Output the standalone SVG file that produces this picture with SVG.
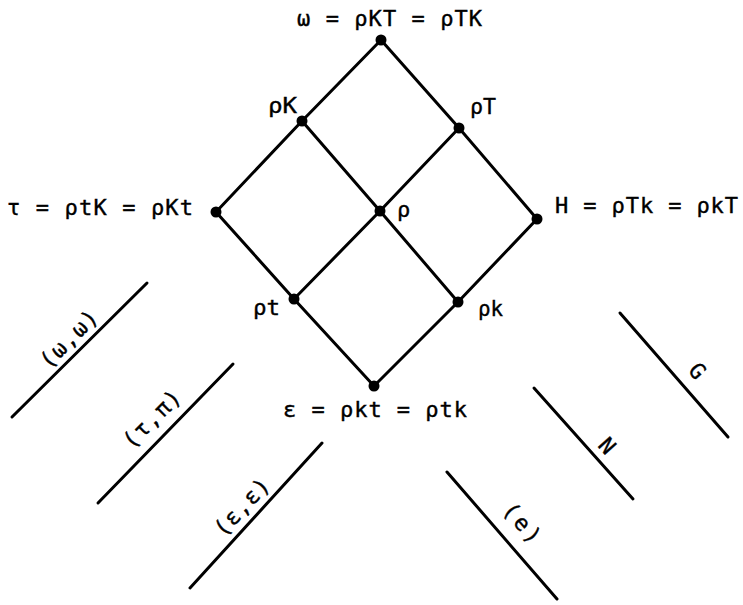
<svg xmlns="http://www.w3.org/2000/svg" width="743" height="605" viewBox="0 0 743 605">
<style>
  .edge { stroke: #000; stroke-width: 3; fill: none; stroke-linecap: round; }
  .dot { fill: #000; }
  .lbl { font-family: "DejaVu Sans Mono", "Liberation Mono", monospace; font-size: 22px; fill: #000; stroke: #000; stroke-width: 0.4; }
  .rl { font-family: "DejaVu Sans Mono", "Liberation Mono", monospace; font-size: 22px; fill: #000; stroke: #000; stroke-width: 0.4; text-anchor: middle; }
</style>
<rect width="743" height="605" fill="#fff"/>
<g id="connectors">
  <line class="edge" x1="381" y1="40" x2="302" y2="121"/>
  <line class="edge" x1="381" y1="40" x2="459" y2="128"/>
  <line class="edge" x1="302" y1="121" x2="216" y2="212"/>
  <line class="edge" x1="302" y1="121" x2="380" y2="211"/>
  <line class="edge" x1="459" y1="128" x2="380" y2="211"/>
  <line class="edge" x1="459" y1="128" x2="537" y2="219"/>
  <line class="edge" x1="216" y1="212" x2="294" y2="299"/>
  <line class="edge" x1="380" y1="211" x2="294" y2="299"/>
  <line class="edge" x1="380" y1="211" x2="458" y2="302"/>
  <line class="edge" x1="537" y1="219" x2="458" y2="302"/>
  <line class="edge" x1="294" y1="299" x2="374" y2="386"/>
  <line class="edge" x1="458" y1="302" x2="374" y2="386"/>
</g>
<g id="node-omega">
  <circle class="dot" cx="381" cy="40" r="5.5"/>
  <text class="lbl" x="297" y="26" textLength="185" lengthAdjust="spacing">ω = ρKT = ρTK</text>
</g>
<g id="node-rhoK">
  <circle class="dot" cx="302" cy="121" r="5.5"/>
  <text class="lbl" x="268" y="113" textLength="29" lengthAdjust="spacingAndGlyphs">ρK</text>
</g>
<g id="node-rhoT">
  <circle class="dot" cx="459" cy="128" r="5.5"/>
  <text class="lbl" x="470" y="114" textLength="26" lengthAdjust="spacingAndGlyphs">ρT</text>
</g>
<g id="node-tau">
  <circle class="dot" cx="216" cy="212" r="5.5"/>
  <text class="lbl" x="7" y="215" textLength="186" lengthAdjust="spacing">τ = ρtK = ρKt</text>
</g>
<g id="node-rho">
  <circle class="dot" cx="380" cy="211" r="5.5"/>
  <text class="lbl" x="397" y="217">ρ</text>
</g>
<g id="node-H">
  <circle class="dot" cx="537" cy="219" r="5.5"/>
  <text class="lbl" x="555" y="213" textLength="183" lengthAdjust="spacing">H = ρTk = ρkT</text>
</g>
<g id="node-rhot">
  <circle class="dot" cx="294" cy="299" r="5.5"/>
  <text class="lbl" x="253" y="315" textLength="27" lengthAdjust="spacingAndGlyphs">ρt</text>
</g>
<g id="node-rhok">
  <circle class="dot" cx="458" cy="302" r="5.5"/>
  <text class="lbl" x="478" y="316" textLength="25" lengthAdjust="spacingAndGlyphs">ρk</text>
</g>
<g id="node-epsilon">
  <circle class="dot" cx="374" cy="386" r="5.5"/>
  <text class="lbl" x="283" y="417" textLength="184" lengthAdjust="spacing">ε = ρkt = ρtk</text>
</g>
<g id="scales">
  <line class="edge" x1="147" y1="283" x2="12" y2="417"/>
  <text class="rl" transform="translate(70,340) rotate(-45)" y="6" textLength="72" lengthAdjust="spacing">(ω,ω)</text>
  <line class="edge" x1="233" y1="364" x2="98" y2="503"/>
  <text class="rl" transform="translate(153,420) rotate(-45)" y="6" textLength="72" lengthAdjust="spacing">(τ,π)</text>
  <line class="edge" x1="322" y1="443" x2="190" y2="588"/>
  <text class="rl" transform="translate(243,508) rotate(-47)" y="6" textLength="70" lengthAdjust="spacing">(ε,ε)</text>
  <line class="edge" x1="447" y1="472" x2="557" y2="599"/>
  <text class="rl" transform="translate(521,524) rotate(49)" y="6" textLength="46" lengthAdjust="spacing">(e)</text>
  <line class="edge" x1="534" y1="388" x2="633" y2="499"/>
  <text class="rl" transform="translate(606,447) rotate(48)" y="6">N</text>
  <line class="edge" x1="620" y1="313" x2="728" y2="437"/>
  <text class="rl" transform="translate(696,372) rotate(49)" y="6">G</text>
</g>
</svg>
